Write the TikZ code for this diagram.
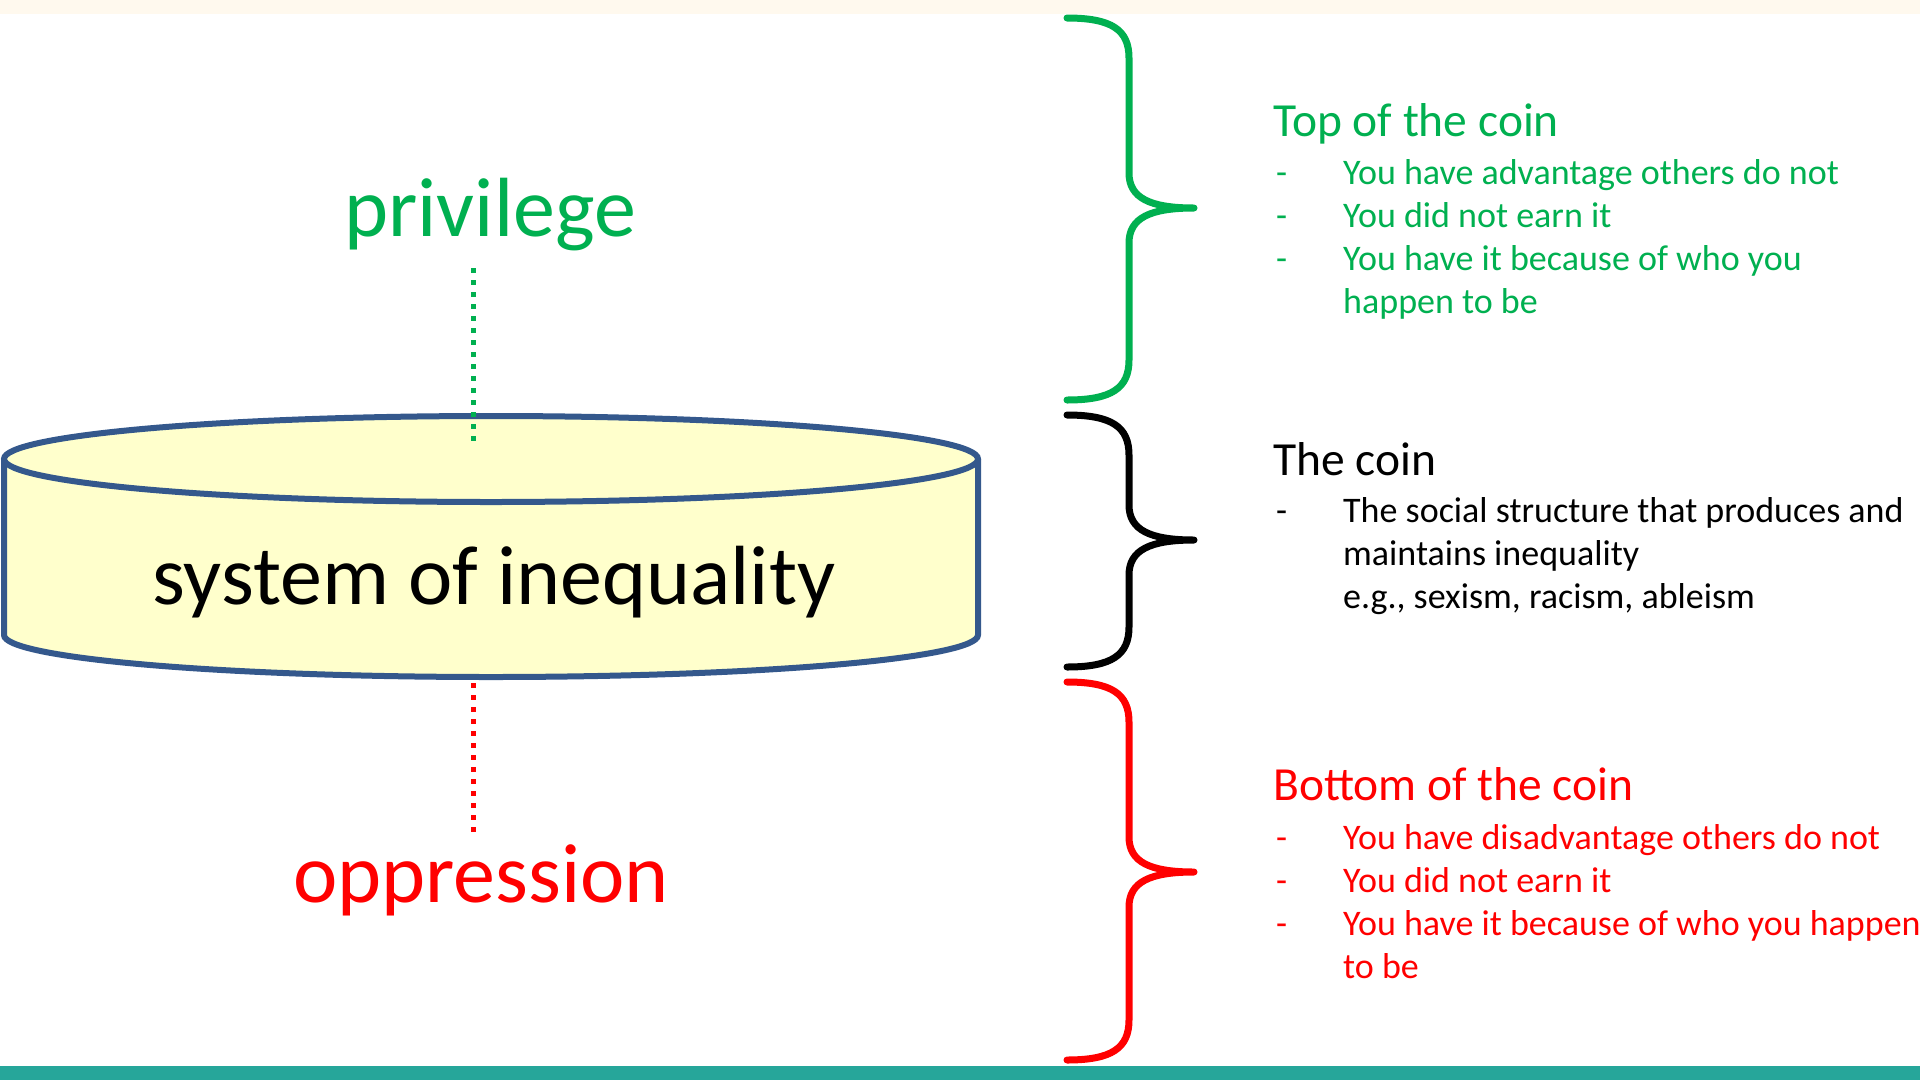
\documentclass[tikz,border=0pt]{standalone}
\usepackage{fontspec}
\setmainfont{Carlito}
\usepackage{tikz}
\usetikzlibrary{positioning}
\definecolor{privgreen}{RGB}{0,176,80}
\definecolor{oppred}{RGB}{255,0,0}
\definecolor{coinfill}{RGB}{255,255,204}
\definecolor{coinedge}{RGB}{52,88,140}
\definecolor{topstrip}{RGB}{255,249,238}
\definecolor{footteal}{RGB}{38,166,154}

\begin{document}
\begin{tikzpicture}[x=1pt,y=-1pt,
    bigword/.style={font=\fontsize{84}{90}\selectfont,anchor=base,inner sep=0pt},
    cointitle/.style={font=\fontsize{47.5}{55}\selectfont,anchor=base west,inner sep=0pt},
    coinline/.style={font=\fontsize{36}{43}\selectfont,anchor=base west,inner sep=0pt},
    bracestroke/.style={line width=7pt,line cap=round,line join=round},
    dotline/.style={line width=5pt,dash pattern=on 5pt off 7pt}
]
    \useasboundingbox (0,0) rectangle (1920,1080);
    \fill[white] (0,0) rectangle (1920,1080);
    \fill[topstrip] (0,0) rectangle (1920,14);
    \fill[footteal] (0,1066) rectangle (1920,1080);

    % the coin
    \filldraw[coinedge,fill=coinfill,line width=6pt] (4,459) -- (4,635)
        arc[start angle=180,end angle=0,x radius=487,y radius=42] -- (978,459);
    \filldraw[coinedge,fill=coinfill,line width=6pt] (491,459) ellipse[x radius=487,y radius=43];
    \node[bigword] (system) at (494,604) {system of inequality};

    % both faces
    \node[bigword,privgreen] (privilege) at (490,236) {privilege};
    \node[bigword,oppred] (oppression) at (481,902) {oppression};
    \coordinate (privend) at (473,268);
    \coordinate (coinup) at (473,447);
    \coordinate (coindown) at (473,683);
    \coordinate (oppend) at (473,835);
    \draw[dotline,privgreen] (privend) -- (coinup);
    \draw[dotline,oppred] (coindown) -- (oppend);

    % braces
    \foreach \col/\top/\tip/\bot in {privgreen/18/208/400, black/415/540/667, oppred/682/872/1060}
        \draw[bracestroke,\col] (1067,\top) .. controls (1112,\top) and (1129,\top+12) .. (1129,\top+40)
            -- (1129,\tip-35) .. controls (1129,\tip-10) and (1150,\tip) .. (1194,\tip)
            .. controls (1150,\tip) and (1129,\tip+10) .. (1129,\tip+35)
            -- (1129,\bot-40) .. controls (1129,\bot-12) and (1112,\bot) .. (1067,\bot);

    % top of the coin
    \node[cointitle,privgreen] (toptitle) at (1273,136) {Top of the coin};
    \foreach \y [count=\i] in {184,227,270}
        \node[coinline,privgreen] (topdash\i) at (1276,\y) {-};
    \node[coinline,privgreen] (top1) at (1343,184) {You have advantage others do not};
    \node[coinline,privgreen] (top2) at (1343,227) {You did not earn it};
    \node[coinline,privgreen] (top3) at (1343,270) {You have it because of who you};
    \node[coinline,privgreen] (top4) at (1343,313) {happen to be};

    % the coin
    \node[cointitle] (cointitle) at (1273,475) {The coin};
    \node[coinline] (coindash) at (1276,522) {-};
    \node[coinline] (coin1) at (1343,522) {The social structure that produces and};
    \node[coinline] (coin2) at (1343,565) {maintains inequality};
    \node[coinline] (coin3) at (1343,608) {e.g., sexism, racism, ableism};

    % bottom of the coin
    \node[cointitle,oppred] (bottitle) at (1273,800) {Bottom of the coin};
    \foreach \y [count=\i] in {849,892,935}
        \node[coinline,oppred] (botdash\i) at (1276,\y) {-};
    \node[coinline,oppred] (bot1) at (1343,849) {You have disadvantage others do not};
    \node[coinline,oppred] (bot2) at (1343,892) {You did not earn it};
    \node[coinline,oppred] (bot3) at (1343,935) {You have it because of who you happen};
    \node[coinline,oppred] (bot4) at (1343,978) {to be};
\end{tikzpicture}
\end{document}
